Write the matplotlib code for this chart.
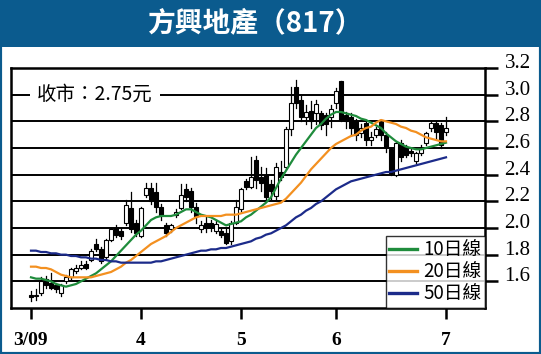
import matplotlib.pyplot as plt
from matplotlib.patches import Rectangle

# ---- Данные: дневные свечи (2 марта - 2 июля 2009) ----
opens = [1.50, 1.49, 1.51, 1.62, 1.59, 1.57, 1.51, 1.60, 1.63, 1.68,
         1.70, 1.73, 1.76, 1.88, 1.84, 1.78, 1.91, 2.00, 1.98, 2.04,
         2.15, 2.04, 1.94, 2.25, 2.30, 2.27, 2.16, 2.02, 1.99, 2.10,
         2.15, 2.29, 2.28, 2.16, 1.99, 2.04, 2.04, 1.98, 1.98, 1.96,
         1.90, 2.04, 2.14, 2.35, 2.31, 2.51, 2.38, 2.40, 2.33, 2.24,
         2.42, 2.46, 2.74, 3.06, 2.96, 2.83, 2.88, 2.86, 2.86, 2.85,
         2.83, 2.94, 3.10, 2.85, 2.83, 2.80, 2.71, 2.79, 2.66, 2.70,
         2.81, 2.70, 2.59, 2.40, 2.64, 2.60, 2.58, 2.50, 2.56, 2.64,
         2.75, 2.79, 2.77, 2.72]
closes = [1.48, 1.50, 1.60, 1.57, 1.55, 1.54, 1.57, 1.63, 1.69, 1.70,
          1.72, 1.70, 1.83, 1.84, 1.75, 1.91, 1.99, 1.95, 1.94, 2.17,
          1.99, 1.96, 2.15, 2.30, 2.20, 2.16, 2.10, 1.96, 2.02, 2.12,
          2.25, 2.23, 2.16, 2.09, 2.02, 2.00, 2.01, 2.03, 1.95, 1.89,
          2.04, 2.16, 2.29, 2.31, 2.38, 2.36, 2.34, 2.23, 2.28, 2.46,
          2.38, 2.74, 2.94, 2.94, 2.83, 2.87, 2.80, 2.93, 2.77, 2.78,
          2.89, 3.03, 2.81, 2.80, 2.75, 2.70, 2.75, 2.66, 2.68, 2.74,
          2.70, 2.61, 2.41, 2.64, 2.53, 2.55, 2.56, 2.56, 2.60, 2.71,
          2.79, 2.72, 2.62, 2.75]
highs = [1.53, 1.54, 1.63, 1.64, 1.66, 1.59, 1.58, 1.65, 1.70, 1.72,
         1.75, 1.75, 1.84, 1.92, 1.86, 1.92, 2.00, 2.02, 2.00, 2.21,
         2.27, 2.06, 2.16, 2.34, 2.34, 2.34, 2.18, 2.04, 2.03, 2.14,
         2.33, 2.33, 2.30, 2.19, 2.05, 2.08, 2.06, 2.05, 2.00, 2.01,
         2.05, 2.21, 2.30, 2.37, 2.53, 2.54, 2.46, 2.45, 2.36, 2.49,
         2.50, 2.76, 3.06, 3.11, 2.99, 2.92, 2.95, 2.96, 2.88, 2.86,
         2.92, 3.05, 3.10, 2.87, 2.86, 2.82, 2.78, 2.81, 2.72, 2.76,
         2.81, 2.72, 2.60, 2.65, 2.66, 2.62, 2.60, 2.57, 2.62, 2.72,
         2.80, 2.80, 2.79, 2.83]
lows = [1.45, 1.46, 1.50, 1.55, 1.54, 1.52, 1.49, 1.59, 1.62, 1.66,
        1.69, 1.69, 1.75, 1.83, 1.74, 1.77, 1.90, 1.93, 1.92, 2.02,
        1.97, 1.94, 1.93, 2.23, 2.18, 2.12, 2.06, 1.94, 1.97, 2.08,
        2.14, 2.20, 2.12, 2.04, 1.97, 1.97, 1.98, 1.96, 1.93, 1.88,
        1.88, 2.03, 2.13, 2.29, 2.30, 2.30, 2.28, 2.20, 2.22, 2.22,
        2.36, 2.44, 2.70, 2.90, 2.80, 2.78, 2.75, 2.78, 2.74, 2.70,
        2.76, 2.90, 2.80, 2.75, 2.70, 2.66, 2.68, 2.62, 2.62, 2.68,
        2.66, 2.57, 2.40, 2.39, 2.50, 2.53, 2.54, 2.49, 2.55, 2.62,
        2.73, 2.67, 2.60, 2.70]

# ---- Скользящие средние ----
ma10 = [1.63, 1.62, 1.62, 1.61, 1.60, 1.58, 1.57, 1.56, 1.57, 1.58,
        1.60, 1.62, 1.64, 1.66, 1.69, 1.72, 1.75, 1.79, 1.83, 1.87,
        1.91, 1.95, 1.98, 2.02, 2.06, 2.08, 2.09, 2.09, 2.09, 2.10,
        2.12, 2.14, 2.14, 2.12, 2.10, 2.09, 2.08, 2.06, 2.04, 2.02,
        2.03, 2.04, 2.05, 2.08, 2.10, 2.13, 2.16, 2.19, 2.23, 2.30,
        2.37, 2.43, 2.49, 2.55, 2.60, 2.65, 2.70, 2.75, 2.78, 2.82,
        2.85, 2.87, 2.87, 2.86, 2.85, 2.84, 2.82, 2.81, 2.79, 2.77,
        2.75, 2.71, 2.68, 2.65, 2.63, 2.61, 2.60, 2.59, 2.59, 2.60,
        2.61, 2.62, 2.63, 2.64]
ma20 = [1.71, 1.71, 1.70, 1.70, 1.69, 1.67, 1.65, 1.64, 1.63, 1.63,
        1.63, 1.63, 1.63, 1.64, 1.65, 1.66, 1.67, 1.69, 1.71, 1.74,
        1.76, 1.79, 1.82, 1.85, 1.88, 1.90, 1.92, 1.94, 1.97, 2.00,
        2.02, 2.04, 2.06, 2.08, 2.09, 2.09, 2.09, 2.09, 2.09, 2.10,
        2.10, 2.10, 2.11, 2.12, 2.13, 2.14, 2.15, 2.16, 2.17, 2.18,
        2.19, 2.22, 2.26, 2.30, 2.34, 2.39, 2.44, 2.48, 2.52, 2.56,
        2.60, 2.63, 2.65, 2.67, 2.69, 2.70, 2.73, 2.75, 2.76, 2.79,
        2.81, 2.80, 2.79, 2.78, 2.76, 2.75, 2.73, 2.72, 2.70, 2.68,
        2.67, 2.66, 2.65, 2.65]
ma50 = [1.83, 1.83, 1.82, 1.82, 1.81, 1.81, 1.80, 1.80, 1.79, 1.79,
        1.78, 1.78, 1.77, 1.77, 1.76, 1.76, 1.75, 1.75, 1.74, 1.74,
        1.74, 1.74, 1.74, 1.74, 1.74, 1.75, 1.75, 1.76, 1.77, 1.78,
        1.79, 1.80, 1.81, 1.82, 1.83, 1.83, 1.84, 1.84, 1.85, 1.85,
        1.86, 1.87, 1.88, 1.89, 1.90, 1.92, 1.93, 1.95, 1.96, 1.98,
        2.00, 2.02, 2.05, 2.08, 2.10, 2.13, 2.15, 2.18, 2.20, 2.23,
        2.26, 2.29, 2.31, 2.33, 2.35, 2.36, 2.37, 2.38, 2.39, 2.40,
        2.41, 2.42, 2.42, 2.43, 2.44, 2.45, 2.46, 2.47, 2.48, 2.49,
        2.50, 2.51, 2.52, 2.53]

# ---- Подписи осей ----
month_pos = [0, 22, 42, 61, 83]  # первый торговый день месяца
month_labels = ['3/09', '4', '5', '6', '7']
y_ticks = [1.6, 1.8, 2.0, 2.2, 2.4, 2.6, 2.8, 3.0, 3.2]
ma_labels = ['10日線', '20日線', '50日線']
ma_colors = ['#1f8c3c', '#f39020', '#1c2b8a']

CJK = ['Noto Sans CJK TC', 'DejaVu Sans']
SERIF = 'Liberation Serif'
BLUE = '#0b5b8e'

# ---- Фигура ----
fig = plt.figure(figsize=(5.41, 3.54), dpi=100)
fig.patch.set_facecolor('white')

# синяя рамка и заголовок
fig.patches.append(Rectangle((0, 0), 1, 1, transform=fig.transFigure,
                             facecolor='none', edgecolor=BLUE, lw=3, zorder=0))
fig.patches.append(Rectangle((0, 1 - 47 / 354), 1, 47 / 354, transform=fig.transFigure,
                             facecolor=BLUE, edgecolor='none', zorder=1))
fig.text(0.47, 1 - 23 / 354, '方興地產（817）', color='white', fontsize=20,
         fontweight='heavy', family=CJK, ha='center', va='center')

ax = fig.add_axes([11 / 541, 46 / 354, 474 / 541, 240 / 354])
ax.set_xlim(-4, 90.8)
ax.set_ylim(1.4, 3.2)

# горизонтальные линии сетки
for y in y_ticks[:-1]:
    ax.axhline(y, color='black', lw=1.4, zorder=1)

# свечи
for i in range(len(opens)):
    o, c = opens[i], closes[i]
    ax.plot([i, i], [lows[i], highs[i]], color='black', lw=0.9, zorder=3)
    up = c >= o
    ax.add_patch(Rectangle((i - 0.38, min(o, c)), 0.76, max(abs(c - o), 0.008),
                           facecolor='white' if up else 'black',
                           edgecolor='black', lw=0.8, zorder=4))

# скользящие средние
x = list(range(len(ma10)))
for vals, col, lab in zip([ma10, ma20, ma50], ma_colors, ma_labels):
    ax.plot(x, vals, color=col, lw=1.6, label=lab, zorder=5)

# надпись цены закрытия
ax.text(1.2, 3.0, '收市：2.75元', fontsize=14, family=CJK, va='center', ha='left',
        zorder=6, bbox=dict(facecolor='white', edgecolor='none', pad=5))

# оси
for s in ax.spines.values():
    s.set_linewidth(1.8)
ax.yaxis.tick_right()
ax.set_yticks(y_ticks)
ax.set_yticklabels([f'{v:.1f}' for v in y_ticks], family=SERIF, fontsize=15,
                   va='baseline')
ax.tick_params(axis='y', direction='out', length=9, width=1.8, pad=5)
ax.set_xticks(month_pos)
ax.set_xticklabels(month_labels, family=SERIF, fontsize=14, fontweight='bold')
ax.tick_params(axis='x', direction='out', length=8, width=1.8, pad=9)

leg = ax.legend(loc='lower right', prop={'family': CJK, 'size': 13.5},
                frameon=True, fancybox=False, edgecolor='black',
                handlelength=1.5, handletextpad=0.3, borderpad=0.2,
                labelspacing=0.05, borderaxespad=0)
leg.get_frame().set_linewidth(1.0)
for line in leg.get_lines():
    line.set_linewidth(2.4)

plt.savefig('out.png', dpi=100)
